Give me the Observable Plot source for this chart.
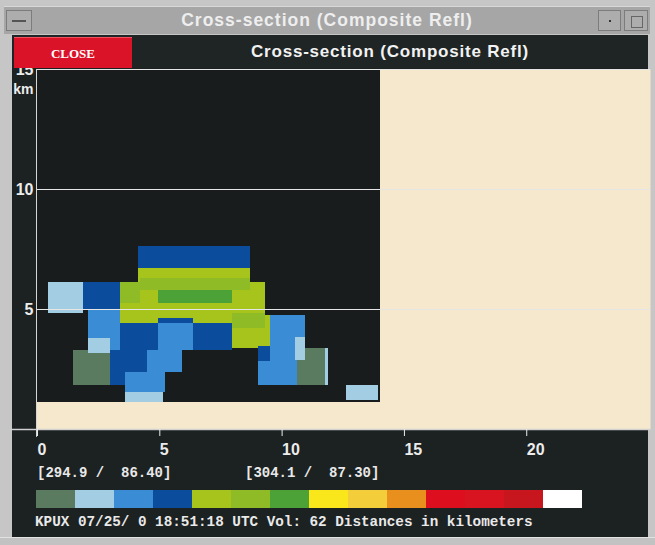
<!DOCTYPE html>
<html><head><meta charset="utf-8">
<script src="https://cdn.jsdelivr.net/npm/d3@7"></script>
<script src="https://cdn.jsdelivr.net/npm/@observablehq/plot@0.6"></script>
<style>
body{margin:0;width:655px;height:545px;overflow:hidden;background:#c6c6c6;position:relative;font-family:"Liberation Sans",sans-serif}
.abs{position:absolute}
#titlebar{left:4px;top:6px;width:646px;height:28px;background:#a6a6a6;border-top:1px solid #d8d8d8;box-sizing:border-box}
#titletext{left:0;top:0;width:646px;height:27px;line-height:27px;text-align:center;color:#eeeeee;font-weight:bold;font-size:17.5px;letter-spacing:1px}
.wbtn{top:3px;height:21px;border:1px solid #7c7c7c;box-sizing:border-box;background:#adadad}
#header{left:12px;top:35px;width:636px;height:33px;background:#1f2525;z-index:3}
#close{left:2px;top:2px;width:118px;height:31px;background:#db1329;color:#fff;font-family:"Liberation Serif",serif;font-weight:bold;font-size:13px;line-height:31px;text-align:center;border-top:1px solid #f05060;box-sizing:border-box}
#htitle{left:120px;top:0;width:516px;height:33px;line-height:33px;text-align:center;color:#f2f2f2;font-weight:bold;font-size:17px;letter-spacing:0.8px}
#panel{left:12px;top:68px;width:636px;height:469px;background:#1c2121}
#chart{left:12px;top:68px;z-index:1}
.mono{font-family:"Liberation Mono",monospace;font-weight:bold;color:#e9e9e9;white-space:pre;font-size:14px;z-index:2}
#legend{left:35px;top:490px;z-index:2}
#bottom{left:0;top:537px;width:655px;height:8px;background:#c2c2c2;border-top:1px solid #e2e2e2}
</style></head><body>
<div id="titlebar" class="abs">
  <div class="abs wbtn" style="left:2px;width:26px"><div class="abs" style="left:5px;top:9px;width:14px;height:2px;background:#555"></div></div>
  <div id="titletext" class="abs"></div>
  <div class="abs wbtn" style="left:594px;width:23px"><div class="abs" style="left:10px;top:9px;width:2px;height:2px;background:#333"></div></div>
  <div class="abs wbtn" style="left:620px;width:24px"><div class="abs" style="left:6px;top:5px;width:10px;height:10px;border:1px solid #666"></div></div>
</div>
<div id="header" class="abs"><div id="close" class="abs"></div><div id="htitle" class="abs"></div></div>
<div id="panel" class="abs"></div>
<div id="chart" class="abs"></div>
<div id="coord0" class="abs mono" style="left:37px;top:465px"></div>
<div id="coord1" class="abs mono" style="left:245px;top:465px"></div>
<div id="legend" class="abs"></div>
<div id="footer" class="abs mono" style="left:35px;top:514px;font-size:14.3px"></div>
<div id="bottom" class="abs"></div>
<script>
// ---- data ----
const titleText = "Cross-section (Composite Refl)";
const closeLabel = "CLOSE";
const xTicks = [0, 5, 10, 15, 20];
const yTicks = [5, 10, 15];
const yUnit = "km";
const xMax = 25.1;
const yMax = 15;
const coverage = [{x1: 0, x2: 14.08, y1: 1.13, y2: 15}];
const levels = [1, 2, 3, 4, 5, 6, 7, 8, 9, 10, 11, 12, 13, 14];
const levelColors = ["#5b7b60", "#a2cde2", "#3a8cd4", "#0c4c9c", "#a6c41c", "#8fbb26", "#4ca236",
  "#f9e71c", "#f4cd3a", "#e98f1e", "#dd0f1f", "#d81421", "#c7161d", "#ffffff"];
// reflectivity cells (km along section, km height, level)
const cells = [
  {x1: 4.18, x2: 8.76, y1: 6.71, y2: 7.63, level: 4},
  {x1: 3.45, x2: 9.37, y1: 4.42, y2: 6.13, level: 5},
  {x1: 4.18, x2: 8.76, y1: 6.13, y2: 6.71, level: 5},
  {x1: 4.27, x2: 8.76, y1: 5.79, y2: 6.29, level: 6},
  {x1: 8.02, x2: 9.57, y1: 3.38, y2: 4.75, level: 5},
  {x1: 8.02, x2: 9.37, y1: 4.2, y2: 4.83, level: 6},
  {x1: 3.45, x2: 4.27, y1: 5.25, y2: 6.13, level: 6},
  {x1: 5.0, x2: 8.02, y1: 5.25, y2: 5.79, level: 7},
  {x1: 0.51, x2: 1.94, y1: 4.83, y2: 6.13, level: 2},
  {x1: 1.94, x2: 3.45, y1: 4.96, y2: 6.13, level: 4},
  {x1: 2.14, x2: 3.45, y1: 2.96, y2: 4.96, level: 3},
  {x1: 3.45, x2: 5.0, y1: 3.29, y2: 4.42, level: 4},
  {x1: 3.04, x2: 4.55, y1: 2.38, y2: 3.29, level: 4},
  {x1: 3.04, x2: 3.65, y1: 1.83, y2: 2.38, level: 4},
  {x1: 5.0, x2: 6.43, y1: 4.42, y2: 4.63, level: 4},
  {x1: 5.0, x2: 6.43, y1: 3.29, y2: 4.42, level: 3},
  {x1: 6.43, x2: 8.02, y1: 3.29, y2: 4.42, level: 4},
  {x1: 4.55, x2: 5.98, y1: 2.38, y2: 3.29, level: 3},
  {x1: 3.65, x2: 5.29, y1: 1.54, y2: 2.38, level: 3},
  {x1: 3.65, x2: 5.2, y1: 1.13, y2: 1.54, level: 2},
  {x1: 1.53, x2: 3.04, y1: 1.83, y2: 3.29, level: 1},
  {x1: 2.14, x2: 3.04, y1: 3.17, y2: 3.79, level: 2},
  {x1: 9.57, x2: 11.0, y1: 1.83, y2: 4.75, level: 3},
  {x1: 9.08, x2: 10.67, y1: 1.83, y2: 3.38, level: 3},
  {x1: 9.08, x2: 9.57, y1: 2.83, y2: 3.46, level: 4},
  {x1: 10.67, x2: 11.82, y1: 1.83, y2: 3.38, level: 1},
  {x1: 10.59, x2: 11.0, y1: 2.88, y2: 3.83, level: 2},
  {x1: 11.82, x2: 11.94, y1: 1.83, y2: 3.38, level: 2},
  {x1: 12.67, x2: 14.0, y1: 1.21, y2: 1.83, level: 2}
];
const coordLabels = ["[294.9 /  86.40]", "[304.1 /  87.30]"];
const footerText = "KPUX 07/25/ 0 18:51:18 UTC Vol: 62 Distances in kilometers";

// ---- texts ----
document.getElementById("titletext").textContent = titleText;
document.getElementById("htitle").textContent = titleText;
document.getElementById("close").textContent = closeLabel;
document.getElementById("coord0").textContent = coordLabels[0];
document.getElementById("coord1").textContent = coordLabels[1];
document.getElementById("footer").textContent = footerText;

const colorScale = {type: "ordinal", domain: levels, range: levelColors};

const chart = Plot.plot({
  width: 638, height: 392,
  marginLeft: 24, marginRight: 0, marginTop: 1, marginBottom: 31,
  x: {domain: [0, xMax], label: null},
  y: {domain: [0, yMax], label: null},
  color: colorScale,
  style: {background: "transparent", overflow: "visible", color: "#ececec",
    fontFamily: "'Liberation Sans', sans-serif", fontSize: "16px", fontWeight: "bold"},
  marks: [
    Plot.frame({fill: "#f6e8cd", stroke: "none"}),
    Plot.rect(coverage, {x1: "x1", x2: "x2", y1: "y1", y2: "y2", fill: "#191c1d", shapeRendering: "crispEdges"}),
    Plot.rect(cells, {x1: "x1", x2: "x2", y1: "y1", y2: "y2", fill: "level", shapeRendering: "crispEdges"}),
    Plot.ruleY(yTicks, {stroke: "#e6e6e6", strokeWidth: 1}),
    Plot.ruleY([0], {x1: -1.06, x2: xMax, stroke: "#d0d0d0", strokeWidth: 1.5}),
    Plot.ruleX([0], {y1: -0.33, y2: yMax, stroke: "#d6d6d6", strokeWidth: 1}),
    Plot.axisX(xTicks, {tickSize: 7, tickPadding: 7, textAnchor: "start", dx: 1, label: null, fontSize: 16}),
    Plot.axisY(yTicks, {anchor: "left", tickSize: 0, tickPadding: 3, label: null, fontSize: 16}),
    Plot.text([yUnit], {x: 0, y: yMax, text: d => d, textAnchor: "end", dx: -3, dy: 24, lineAnchor: "bottom", fontSize: 14})
  ]
});
document.getElementById("chart").append(chart);

const legend = Plot.plot({
  width: 548, height: 18, margin: 0,
  x: {type: "band", domain: levels, padding: 0, axis: null},
  color: colorScale,
  style: {background: "transparent"},
  marks: [Plot.cell(levels, {x: d => d, fill: d => d, shapeRendering: "crispEdges"})]
});
document.getElementById("legend").append(legend);
</script>
</body></html>
